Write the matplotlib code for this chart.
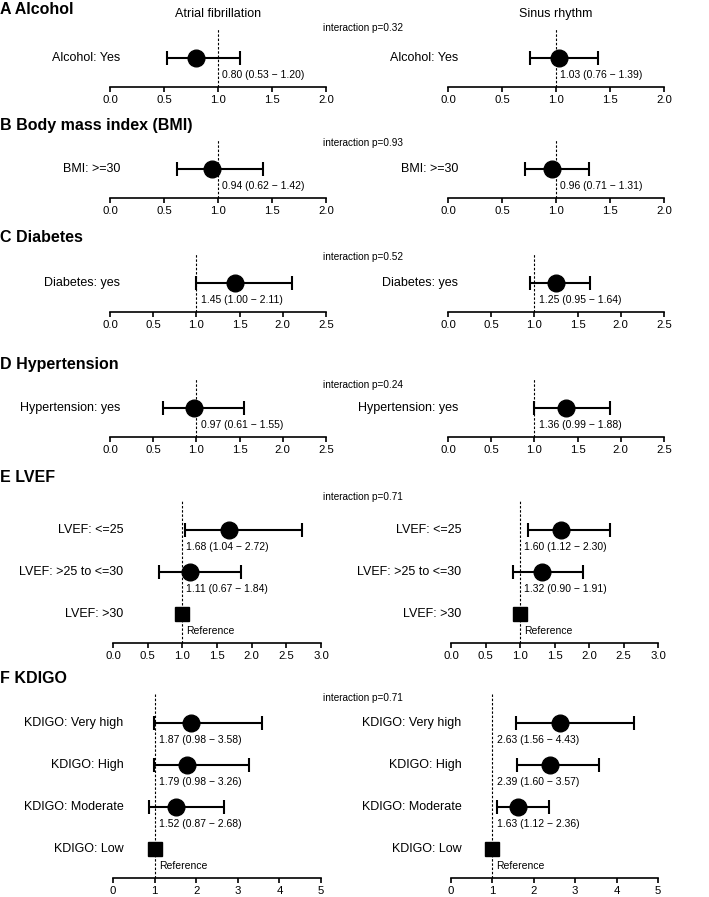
import numpy as np
import matplotlib.pyplot as plt
from matplotlib.ticker import FormatStrFormatter

plt.rcParams['font.family'] = ['Liberation Sans Narrow', 'Liberation Sans', 'DejaVu Sans']

W, H = 709, 897

# panel data
titles = ["A Alcohol", "B Body mass index (BMI)", "C Diabetes", "D Hypertension", "E LVEF", "F KDIGO"]
p_interaction = ["0.32", "0.93", "0.52", "0.24", "0.71", "0.71"]
row_labels = [
    ["Alcohol: Yes"],
    ["BMI: >=30"],
    ["Diabetes: yes"],
    ["Hypertension: yes"],
    ["LVEF: <=25", "LVEF: >25 to <=30", "LVEF: >30"],
    ["KDIGO: Very high", "KDIGO: High", "KDIGO: Moderate", "KDIGO: Low"],
]
x_max = [2.0, 2.0, 2.5, 2.5, 3.0, 5.0]
x_step = [0.5, 0.5, 0.5, 0.5, 0.5, 1.0]
group_names = ["Atrial fibrillation", "Sinus rhythm"]

# hazard ratios, None = reference category
af_hr = [[0.80], [0.94], [1.45], [0.97], [1.68, 1.11, None], [1.87, 1.79, 1.52, None]]
af_lo = [[0.53], [0.62], [1.00], [0.61], [1.04, 0.67, None], [0.98, 0.98, 0.87, None]]
af_hi = [[1.20], [1.42], [2.11], [1.55], [2.72, 1.84, None], [3.58, 3.26, 2.68, None]]
sr_hr = [[1.03], [0.96], [1.25], [1.36], [1.60, 1.32, None], [2.63, 2.39, 1.63, None]]
sr_lo = [[0.76], [0.71], [0.95], [0.99], [1.12, 0.90, None], [1.56, 1.60, 1.12, None]]
sr_hi = [[1.39], [1.31], [1.64], [1.88], [2.30, 1.91, None], [4.43, 3.57, 2.36, None]]

# layout (pixels)
axis_y = [87, 198, 312, 437, 643, 878]
title_y = [10, 125, 238, 365, 477, 678]
inter_y = [28, 143, 257, 385, 497, 698]
left_x = [(110, 326)] * 4 + [(113, 321)] * 2
right_x = [(448, 664)] * 4 + [(451, 658)] * 2
row_px = 42

fig = plt.figure(figsize=(W / 100, H / 100), dpi=100)


def forest(ax, labels, hr, lo, hi, xmax, step):
    n = len(labels)
    ax.set_xlim(0, xmax)
    ax.set_ylim(0, n + 0.4)
    for s in ['top', 'left', 'right']:
        ax.spines[s].set_visible(False)
    ax.spines['bottom'].set_bounds(0, xmax)
    ax.spines['bottom'].set_linewidth(1.2)
    ax.yaxis.set_visible(False)
    ax.patch.set_visible(False)
    ax.set_xticks(np.arange(0, xmax + step / 2, step))
    ax.xaxis.set_major_formatter(FormatStrFormatter('%.1f' if step < 1 else '%d'))
    ax.tick_params(axis='x', direction='out', length=3.5, width=1.2, pad=2, labelsize=8.2)
    ax.axvline(1, color='k', lw=0.8, ls=(0, (2.2, 1.6)), zorder=1)
    for k, lab in enumerate(labels):
        y = n - 1 - k + 0.7
        ax.annotate(lab, xy=(0, y), xycoords=('axes fraction', 'data'), xytext=(7.5, 0),
                    textcoords='offset points', ha='right', va='center', fontsize=9)
        if hr[k] is None:
            ax.plot([1], [y], marker='s', ms=10.5, color='k', zorder=3)
            txt = "Reference"
        else:
            ax.errorbar([hr[k]], [y], xerr=[[hr[k] - lo[k]], [hi[k] - hr[k]]], fmt='o', ms=12,
                        color='k', ecolor='k', elinewidth=1.5, capsize=5, capthick=1.5, zorder=3)
            txt = f"{hr[k]:.2f} ({lo[k]:.2f} \u2212 {hi[k]:.2f})"
        ax.annotate(txt, xy=(1, y), xytext=(3, -12.5), textcoords='offset points',
                    ha='left', va='center', fontsize=7.5)


for i in range(len(titles)):
    n = len(row_labels[i])
    h = (n + 0.4) * row_px
    bottom = 1 - axis_y[i] / H
    for g, (xs, hr, lo, hi) in enumerate([(left_x[i], af_hr[i], af_lo[i], af_hi[i]),
                                          (right_x[i], sr_hr[i], sr_lo[i], sr_hi[i])]):
        ax = fig.add_axes([xs[0] / W, bottom, (xs[1] - xs[0]) / W, h / H])
        forest(ax, row_labels[i], hr, lo, hi, x_max[i], x_step[i])
        if i == 0:
            ax.annotate(group_names[g], xy=(0.5, 1), xycoords='axes fraction', xytext=(0, 10),
                        textcoords='offset points', ha='center', va='center', fontsize=9)
    fig.text(0, 1 - title_y[i] / H, titles[i], fontsize=11.5, fontweight='bold',
             ha='left', va='center')
    fig.text(363 / W, 1 - inter_y[i] / H, f"interaction p={p_interaction[i]}", fontsize=7.2,
             ha='center', va='center')

fig.savefig("out.png", dpi=100)
